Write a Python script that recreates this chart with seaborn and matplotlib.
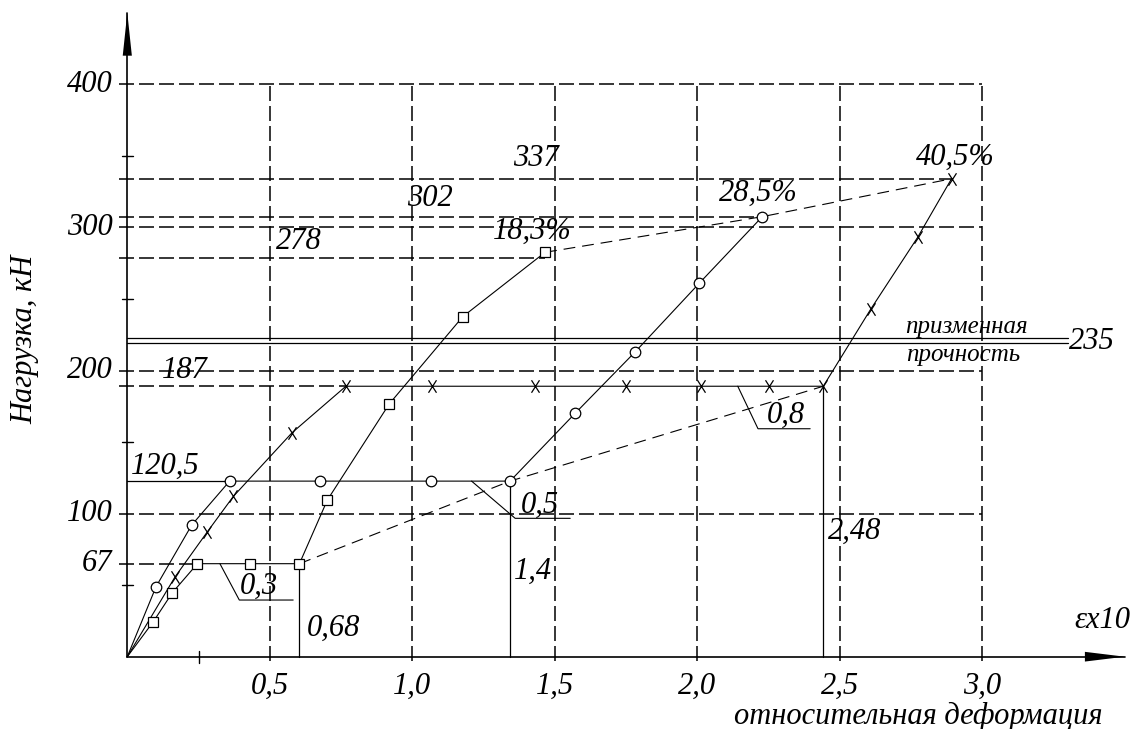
import matplotlib
matplotlib.use("Agg")
import matplotlib.pyplot as plt
import seaborn as sns
from matplotlib.path import Path

# ---------------- data ----------------
# squares: 18.3 % series  (strain x10, load kN)
sq_x = [0.0, 0.091, 0.158, 0.246, 0.431, 0.604, 0.702, 0.919, 1.177, 1.466]
sq_y = [0.0, 24.4, 44.7, 65.0, 65.0, 65.0, 109.5, 176.6, 237.6, 282.6]
# circles: 28.5 % series
ci_x = [0.0, 0.101, 0.226, 0.359, 0.676, 1.066, 1.343, 1.571, 1.782, 2.007, 2.228]
ci_y = [0.0, 49.0, 92.0, 122.7, 122.7, 122.7, 122.7, 170.0, 213.0, 261.0, 307.5]
# crosses: 40.5 % series
xx_x = [0.0, 0.167, 0.281, 0.372, 0.578, 0.767, 1.068, 1.431, 1.749, 2.014, 2.252,
        2.442, 2.609, 2.773, 2.892]
xx_y = [0.0, 55.6, 87.3, 112.0, 156.5, 189.0, 189.0, 189.0, 189.0, 189.0, 189.0,
        189.0, 243.0, 293.0, 334.0]

# annotated levels (label text, drawn level, end of dashed line)
level_labels = ["337", "302", "278", "187", "120,5", "67"]
level_values = [334.0, 307.5, 278.8, 189.0, 122.7, 65.0]
level_ends = [2.892, 2.228, 1.466, 0.767, 0.359, 0.246]
yield_label = "235"
yield_value = 220.9
elong_labels = ["18,3%", "28,5%", "40,5%"]
res_labels = ["0,68", "1,4", "2,48"]
res_x = [0.604, 1.343, 2.442]
res_y = [65.0, 122.7, 189.0]
plateau_labels = ["0,3", "0,5", "0,8"]
# leader lines for plateau lengths
lead_x = [[0.325, 0.393, 0.582], [1.208, 1.361, 1.554], [2.142, 2.213, 2.396]]
lead_y = [[65.0, 39.6, 39.6], [122.7, 96.7, 96.7], [189.0, 159.3, 159.3]]
# upper envelope (dashed)
up_x = [1.466, 2.228, 2.892]
up_y = [282.6, 307.5, 334.0]

x_grid = [0.5, 1.0, 1.5, 2.0, 2.5, 3.0]
x_tick_labels = ["0,5", "1,0", "1,5", "2,0", "2,5", "3,0"]
y_grid = [100, 200, 300, 400]
y_tick_labels = ["100", "200", "300", "400"]
y_minor = [50, 150, 250, 350]

# ---------------- style ----------------
sns.set_theme(style="white")
plt.rcParams["font.family"] = ["Liberation Serif", "DejaVu Serif"]
plt.rcParams["lines.scale_dashes"] = False

W, H = 1135, 729
PX0, PY0 = 127.3, 656.7
SX, SY = 285.0, 1.431

fig = plt.figure(figsize=(W / 100, H / 100), dpi=100)
fig.patch.set_facecolor("white")
ax = fig.add_axes([0, 0, 1, 1])
ax.set_xlim(-PX0 / SX, (W - PX0) / SX)
ax.set_ylim((PY0 - H) / SY, PY0 / SY)
ax.axis("off")

K = "black"
GRID_LS = (0, (10.8, 3.6))
ENV_LS = (0, (8.5, 5.0))
TXT = dict(fontstyle="italic", color=K, ha="center", va="center")
NUM_FS = 22


def line(xs, ys, lw=0.75, ls="-"):
    sns.lineplot(x=xs, y=ys, ax=ax, color=K, linewidth=lw, linestyle=ls,
                 estimator=None, sort=False, legend=False)


# grid
xmin_dash = -0.03
for g in y_grid:
    line([xmin_dash, 3.0], [g, g], lw=1.1, ls=GRID_LS)
for g in x_grid:
    line([g, g], [-3, 400], lw=1.1, ls=GRID_LS)

# level lines (dashed, the 120,5 one is solid)
for v, e in zip(level_values, level_ends):
    if v == level_values[4]:
        line([0, e], [v, v], lw=0.9)
    else:
        line([xmin_dash, e], [v, v], lw=1.1, ls=GRID_LS)

# yield double line
for off in (-1.5, 1.5):
    line([0, 3.30], [yield_value + off, yield_value + off], lw=0.9)

# axes with arrows
line([0, 0], [0, 449.7], lw=1.2)
line([0, 3.50], [0, 0], lw=1.2)
ax.fill([-0.016, 0.0, 0.016], [420, 450, 420], color=K, lw=0)
ax.fill([3.36, 3.50, 3.36], [-3.4, 0, 3.4], color=K, lw=0)
for t in y_minor:
    line([-0.019, 0.019], [t, t], lw=1.0)
line([0.25, 0.25], [-4.2, 4.2], lw=1.0)

# series lines
line(sq_x, sq_y, lw=0.8)
line(ci_x, ci_y, lw=0.8)
line(xx_x, xx_y, lw=0.8)

# envelopes
line(res_x, res_y, lw=0.8, ls=ENV_LS)
line(up_x, up_y, lw=0.8, ls=ENV_LS)

# residual verticals
for rx, ry in zip(res_x, res_y):
    line([rx, rx], [0, ry], lw=0.9)

# leaders
for lx, ly in zip(lead_x, lead_y):
    line(lx, ly, lw=0.8)

# markers
sns.lineplot(x=sq_x[1:], y=sq_y[1:], ax=ax, color=K, linestyle="none", marker="s",
             markersize=7.6, markerfacecolor="white", markeredgecolor=K,
             markeredgewidth=0.9, estimator=None, sort=False, legend=False)
sns.lineplot(x=ci_x[1:], y=ci_y[1:], ax=ax, color=K, linestyle="none", marker="o",
             markersize=7.6, markerfacecolor="white", markeredgecolor=K,
             markeredgewidth=0.9, estimator=None, sort=False, legend=False)
xmark = Path([(-0.32, -0.5), (0.32, 0.5), (-0.32, 0.5), (0.32, -0.5)],
             [Path.MOVETO, Path.LINETO, Path.MOVETO, Path.LINETO])
sns.lineplot(x=xx_x[1:], y=xx_y[1:], ax=ax, color=K, linestyle="none", marker=xmark,
             markersize=9, markerfacecolor="none", markeredgecolor=K,
             markeredgewidth=0.9, estimator=None, sort=False, legend=False)

# tick labels
for g, t in zip(x_grid, x_tick_labels):
    ax.text(g, -21, t, fontsize=NUM_FS, **TXT)
for g, t in zip(y_grid, y_tick_labels):
    ax.text(-0.052, g, t, fontsize=NUM_FS, fontstyle="italic", color=K,
            ha="right", va="center")
ax.text(-0.052, 65.0, level_labels[5], fontsize=NUM_FS, fontstyle="italic", color=K,
        ha="right", va="center")

# level labels
lvl_pos = [(1.434, 348), (1.062, 320), (0.603, 290), (0.202, 200), (0.132, 133)]
for (px, py), t in zip(lvl_pos, level_labels[:5]):
    ax.text(px, py, t, fontsize=NUM_FS, **TXT)

# elongation labels
for (px, py), t in zip([(1.42, 297), (2.213, 324), (2.904, 349)], elong_labels):
    ax.text(px, py, t, fontsize=NUM_FS, **TXT)

# residual strain labels
for (px, py), t in zip([(0.722, 20), (1.424, 59.4), (2.552, 87.4)], res_labels):
    ax.text(px, py, t, fontsize=NUM_FS, **TXT)

# plateau labels
for (px, py), t in zip([(0.462, 49.4), (1.448, 106), (2.311, 168.7)], plateau_labels):
    ax.text(px, py, t, fontsize=NUM_FS, **TXT)

# yield strength
ax.text(3.385, 220.5, yield_label, fontsize=NUM_FS, **TXT)
ax.text(2.946, 230.3, "призменная", fontsize=18, **TXT)
ax.text(2.932, 211.0, "прочность", fontsize=18, **TXT)

# axis titles
ax.text(3.42, 25, "εx10", fontsize=NUM_FS, **TXT)
ax.text(2.777, -41.5, "относительная деформация", fontsize=22, **TXT)
ax.text(-0.359, 222, "Нагрузка, кН", fontsize=22, rotation=90, **TXT)

fig.savefig("out.png", dpi=100, facecolor="white")
